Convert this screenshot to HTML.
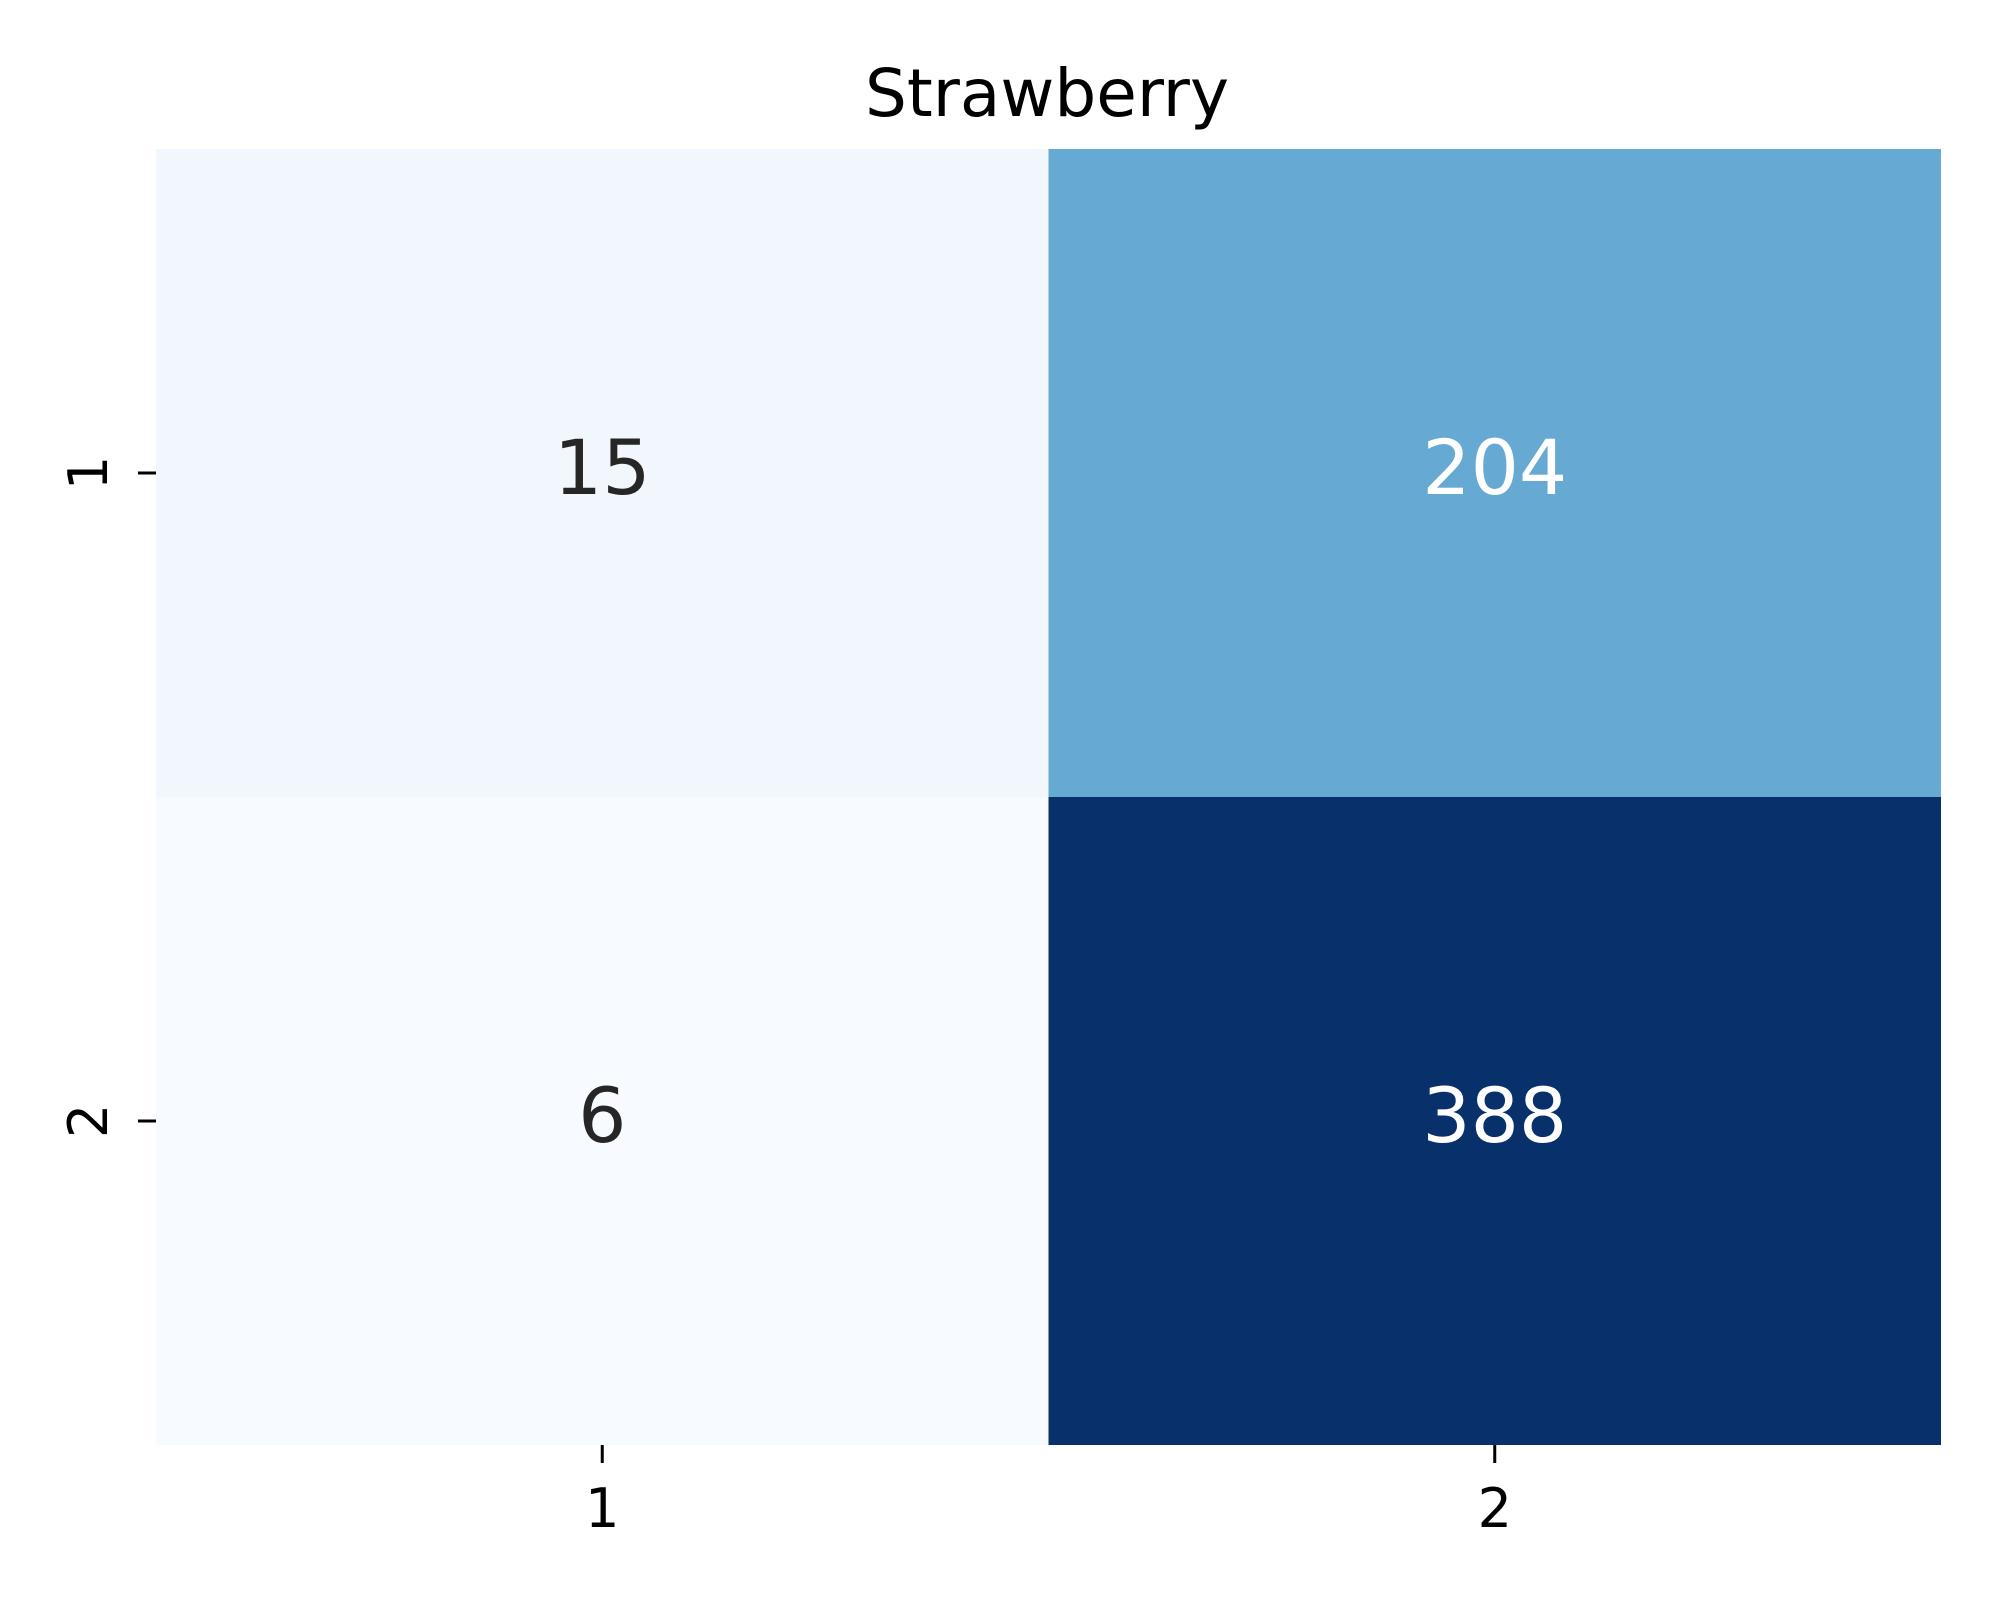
<!DOCTYPE html>
<html><head><meta charset="utf-8"><style>
body{margin:0;background:#fff}
svg text{font-family:"DejaVu Sans","Liberation Sans",sans-serif}
</style></head><body>
<svg id="chart" width="2000" height="1600" xmlns="http://www.w3.org/2000/svg">
<text x="1047" y="116" font-size="66" text-anchor="middle" fill="#000">Strawberry</text>
<g id="cells"></g>
<g id="axes"></g>
</svg>
<script>
const rowLabels = ["1","2"];
const colLabels = ["1","2"];
const values = [[15,204],[6,388]];
const colors = [["#f2f7fd","#66aad4"],["#f7fbff","#08306b"]];
const textColors = [["#262626","#ffffff"],["#262626","#ffffff"]];
const L=156,R=1941,T=149,B=1445;
const cw=(R-L)/colLabels.length, ch=(B-T)/rowLabels.length;
const xPos=j=>L+j*cw, yPos=i=>T+i*ch;
const NS="http://www.w3.org/2000/svg";
const cells=document.getElementById('cells'), axes=document.getElementById('axes');
function mk(tag,attrs,parent){const e=document.createElementNS(NS,tag);for(const k in attrs)e.setAttribute(k,attrs[k]);parent.appendChild(e);return e;}
values.forEach((row,i)=>row.forEach((v,j)=>{
  const r=mk('rect',{x:xPos(j),y:yPos(i),width:cw,height:ch,fill:colors[i][j]},cells);
  
  
  const t=mk('text',{x:xPos(j)+cw/2,y:yPos(i)+ch/2+21,'font-size':76,'text-anchor':'middle',fill:textColors[i][j]},cells);
  t.textContent=v;
  
  
}));
colLabels.forEach((c,j)=>{
  const x=xPos(j)+cw/2;
  const tk=mk('line',{x1:x,x2:x,y1:B,y2:B+18,stroke:'#000','stroke-width':3},axes);
  
  
  const t=mk('text',{x:x,y:1527,'font-size':54,'text-anchor':'middle',fill:'#000'},axes);
  t.textContent=c;
  
  
});
rowLabels.forEach((r,i)=>{
  const y=yPos(i)+ch/2;
  const tk=mk('line',{x1:L-18,x2:L,y1:y,y2:y,stroke:'#000','stroke-width':3},axes);
  
  
  const t=mk('text',{x:0,y:0,'font-size':54,'text-anchor':'middle',fill:'#000',transform:`translate(${L-49},${y}) rotate(-90)`},axes);
  t.textContent=r;
  
  
});
</script>
</body></html>
